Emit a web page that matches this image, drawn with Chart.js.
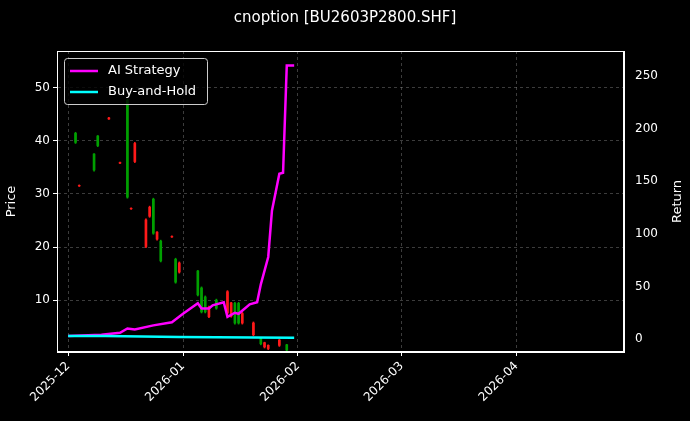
<!DOCTYPE html>
<html><head><meta charset="utf-8">
<script src="https://cdn.jsdelivr.net/npm/chart.js@4"></script>
<style>html,body{margin:0;background:#000}canvas{display:block}</style>
</head><body><canvas id="c" width="690" height="421"></canvas>
<script>
// days since 2025-12-01
const tickDays = [0, 31, 62, 90, 121];
const tickLabels = ['2025-12', '2026-01', '2026-02', '2026-03', '2026-04'];
const candleDays = [2,3,7,8,11,14,16,17,18,21,22,23,24,25,28,29,30,35,36,37,38,40,43,44,45,46,47,50,52,53,54,57,59];
const opens  = [39.7,31.6,34.5,39.1,44.3,35.9,29.4,27.3,39.5,25.1,27.5,22.6,22.8,17.4,22.0,13.4,17.0,11.0,7.8,7.8,8.7,8.5,11.6,9.5,5.7,5.7,7.5,5.7,1.8,2.0,1.5,2.5,0.6];
const closes = [41.4,31.5,37.5,40.9,44.1,35.8,47.6,27.2,36.1,20.1,25.8,29.0,21.5,21.1,21.9,17.7,15.3,15.5,12.3,10.6,6.9,10.0,7.6,7.0,9.4,9.4,5.7,3.5,2.9,1.2,0.9,1.5,1.6];
const highs  = [41.6,31.7,37.6,41.0,44.4,36.0,47.8,27.4,39.7,25.3,27.7,29.2,22.9,21.3,22.1,17.9,17.2,15.6,12.5,10.8,8.9,10.2,11.8,9.6,9.6,9.6,7.7,5.9,3.0,2.1,1.6,2.6,1.7];
const lows   = [39.5,31.4,34.3,38.9,44.0,35.7,29.2,27.1,35.9,19.9,25.6,22.4,21.3,17.2,21.8,13.2,15.1,10.8,7.6,7.6,6.7,8.3,7.4,6.8,5.5,5.5,5.5,3.3,1.6,1.0,0.7,1.3,0.4];
const stratDays = [0,9,14,16,18,23,28,31,35,36,38,39,42,43,45,46,49,51,52,54,55,57,58,59,61];
const stratReturns = [3,4,6,10,9,13,16,24,34,29,29,32,35,21,25,24,33,35,52,78,122,157,158,260,260];
const holdDays = [0,10,20,30,40,50,61];
const holdReturns = [3,3,2.5,2,1.8,1.5,1.3];

const green='#00a000', red='#ff1a1a';
const cols = opens.map((o,i)=>closes[i]>=o?green:red);
const wick = candleDays.map((d,i)=>({x:d,y:[lows[i],highs[i]]}));
const body = candleDays.map((d,i)=>({x:d,y:[opens[i],closes[i]]}));
const grid = {color:'rgba(150,150,150,0.4)', drawTicks:true, tickColor:'#fff', tickLength:4, offset:false};
const border = {color:'#fff', dash:[3,3]};

const legendPlugin = {id:'lg', afterDraw(ch){
  const c=ch.ctx, a=ch.chartArea; const x=a.left+7, y=a.top+7;
  c.save(); c.fillStyle='rgba(0,0,0,0.8)'; c.strokeStyle='#ccc'; c.lineWidth=1;
  c.beginPath(); c.roundRect(x+0.5,y+0.5,143,46,3); c.fill(); c.stroke();
  c.font='13px "DejaVu Sans"'; c.textBaseline='middle';
  [[2,'#ff00ff'],[3,'#00ffff']].forEach(([di,col],k)=>{
    const yy=y+13+k*21; c.strokeStyle=col; c.lineWidth=2.5;
    c.beginPath(); c.moveTo(x+6,yy); c.lineTo(x+34,yy); c.stroke();
    c.fillStyle='#fff'; c.fillText(ch.data.datasets[di].label,x+44,yy);
  });
  c.translate(678,(a.top+a.bottom)/2); c.rotate(-Math.PI/2);
  c.textAlign='center'; c.fillText('Return',0,0);
  c.restore();
  // solid frame
  c.save(); c.strokeStyle='#fff'; c.lineWidth=1; c.strokeRect(a.left+0.5,a.top+0.5,a.right-a.left-1,a.bottom-a.top-1); c.restore();
}};

new Chart(document.getElementById('c'), {
  data:{datasets:[
    {type:'bar',label:'wick',data:wick,backgroundColor:cols,barThickness:1,yAxisID:'y',xAxisID:'x',grouped:false,order:3},
    {type:'bar',label:'body',data:body,backgroundColor:cols,barThickness:2,yAxisID:'y',xAxisID:'x',grouped:false,order:3},
    {type:'line',label:'AI Strategy',data:stratDays.map((d,i)=>({x:d,y:stratReturns[i]})),borderColor:'#ff00ff',borderWidth:2.5,pointRadius:0,yAxisID:'y2',order:1},
    {type:'line',label:'Buy-and-Hold',data:holdDays.map((d,i)=>({x:d,y:holdReturns[i]})),borderColor:'#00ffff',borderWidth:2.5,pointRadius:0,yAxisID:'y2',order:0}
  ]},
  options:{responsive:false,animation:false,
    layout:{padding:0},
    plugins:{legend:{display:false},tooltip:{enabled:false},
      title:{display:true,text:'cnoption [BU2603P2800.SHF]',color:'#fff',font:{size:15,family:'DejaVu Sans',weight:'normal'},padding:{top:9,bottom:24}}},
    scales:{
      x:{type:'linear',offset:false,min:-3,max:150,grid:grid,border:border,
        afterBuildTicks(s){s.ticks=tickDays.map(v=>({value:v}));},
        ticks:{color:'#fff',font:{size:12,family:'DejaVu Sans'},maxRotation:45,minRotation:45,callback:(v)=>tickLabels[tickDays.indexOf(v)]},
        afterFit(s){s.height=69;}},
      y:{type:'linear',position:'left',min:0.25,max:56.9,grid:grid,border:border,
        afterBuildTicks(s){s.ticks=[10,20,30,40,50].map(v=>({value:v}));},
        ticks:{color:'#fff',font:{size:12,family:'DejaVu Sans'}},
        title:{display:true,text:'Price',color:'#fff',font:{size:13,family:'DejaVu Sans'}},
        afterFit(s){s.width=57;}},
      y2:{type:'linear',position:'right',min:-12.3,max:273.7,grid:{display:false},border:{color:'#fff'},
        afterBuildTicks(s){s.ticks=[0,50,100,150,200,250].map(v=>({value:v}));},
        ticks:{color:'#fff',font:{size:12,family:'DejaVu Sans'}},
        afterFit(s){s.width=66;}}
    }},
  plugins:[legendPlugin]
});
</script></body></html>
